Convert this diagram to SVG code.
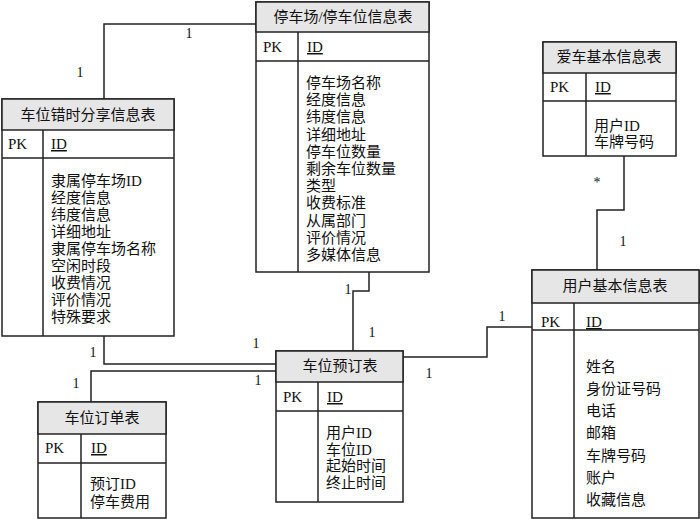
<svg xmlns="http://www.w3.org/2000/svg" width="700" height="520" viewBox="0 0 700 520">
<style>
text{font-family:"Liberation Serif","Noto Sans CJK SC",serif;fill:#111;}
.h{font-size:15px;text-anchor:middle;}
.t{font-size:15px;}
.l{font-size:14px;text-anchor:middle;}
.box{fill:#fff;stroke:#222;stroke-width:1.5;}
.hd{fill:#e6e6e6;stroke:#222;stroke-width:1.5;}
.ln{fill:none;stroke:#222;stroke-width:1.5;}
.u{text-decoration:underline;}
</style>
<rect width="700" height="520" fill="#fff"/>
<g id="connectors">
<polyline class="ln" points="104,99 104,24 256,24"/>
<polyline class="ln" points="369,272 369,291 353,291 353,351"/>
<polyline class="ln" points="403,357 487,357 487,327 532,327"/>
<polyline class="ln" points="624,156 624,210 597,210 597,270"/>
<polyline class="ln" points="104,336 104,364 276,364"/>
<polyline class="ln" points="91,402 91,371 276,371"/>
<text class="l" x="80" y="77">1</text>
<text class="l" x="189" y="38">1</text>
<text class="l" x="93" y="357">1</text>
<text class="l" x="76" y="388">1</text>
<text class="l" x="256" y="348">1</text>
<text class="l" x="258" y="385">1</text>
<text class="l" x="348" y="294">1</text>
<text class="l" x="372" y="337">1</text>
<text class="l" x="502" y="321">1</text>
<text class="l" x="429" y="378">1</text>
<text class="l" x="597" y="187">*</text>
<text class="l" x="623" y="246">1</text>
</g>
<g id="t1">
<rect class="box" x="2" y="99" width="172" height="237"/>
<rect class="hd" x="2" y="99" width="172" height="31"/>
<line class="ln" x1="2" y1="158" x2="174" y2="158"/>
<line class="ln" x1="43" y1="130" x2="43" y2="336"/>
<text class="h" x="88" y="120">车位错时分享信息表</text>
<text class="t" x="8" y="149">PK</text>
<text class="t u" x="51" y="149">ID</text>
<text class="t" x="51" y="186">隶属停车场ID</text>
<text class="t" x="51" y="203">经度信息</text>
<text class="t" x="51" y="220">纬度信息</text>
<text class="t" x="51" y="237">详细地址</text>
<text class="t" x="51" y="254">隶属停车场名称</text>
<text class="t" x="51" y="271">空闲时段</text>
<text class="t" x="51" y="288">收费情况</text>
<text class="t" x="51" y="305">评价情况</text>
<text class="t" x="51" y="322">特殊要求</text>
</g>
<g id="t2">
<rect class="box" x="256" y="2" width="173" height="270"/>
<rect class="hd" x="256" y="2" width="173" height="30"/>
<line class="ln" x1="256" y1="61" x2="429" y2="61"/>
<line class="ln" x1="298" y1="32" x2="298" y2="272"/>
<text class="h" x="343" y="22">停车场/停车位信息表</text>
<text class="t" x="263" y="52">PK</text>
<text class="t u" x="307" y="52">ID</text>
<text class="t" x="306" y="88">停车场名称</text>
<text class="t" x="306" y="105">经度信息</text>
<text class="t" x="306" y="122">纬度信息</text>
<text class="t" x="306" y="140">详细地址</text>
<text class="t" x="306" y="157">停车位数量</text>
<text class="t" x="306" y="174">剩余车位数量</text>
<text class="t" x="306" y="191">类型</text>
<text class="t" x="306" y="208">收费标准</text>
<text class="t" x="306" y="226">从属部门</text>
<text class="t" x="306" y="243">评价情况</text>
<text class="t" x="306" y="260">多媒体信息</text>
</g>
<g id="t3">
<rect class="box" x="543" y="42" width="133" height="114"/>
<rect class="hd" x="543" y="42" width="133" height="31"/>
<line class="ln" x1="543" y1="101" x2="676" y2="101"/>
<line class="ln" x1="586" y1="73" x2="586" y2="156"/>
<text class="h" x="609" y="62">爱车基本信息表</text>
<text class="t" x="550" y="92">PK</text>
<text class="t u" x="595" y="92">ID</text>
<text class="t" x="594" y="131">用户ID</text>
<text class="t" x="594" y="147">车牌号码</text>
</g>
<g id="t4">
<rect class="box" x="532" y="270" width="167" height="248"/>
<rect class="hd" x="532" y="270" width="167" height="33"/>
<line class="ln" x1="532" y1="330" x2="699" y2="330"/>
<line class="ln" x1="574" y1="303" x2="574" y2="518"/>
<text class="h" x="615" y="291">用户基本信息表</text>
<text class="t" x="541" y="327">PK</text>
<text class="t u" x="586" y="327">ID</text>
<text class="t" x="586" y="372">姓名</text>
<text class="t" x="586" y="394">身份证号码</text>
<text class="t" x="586" y="416">电话</text>
<text class="t" x="586" y="438">邮箱</text>
<text class="t" x="586" y="461">车牌号码</text>
<text class="t" x="586" y="483">账户</text>
<text class="t" x="586" y="505">收藏信息</text>
</g>
<g id="t5">
<rect class="box" x="276" y="351" width="127" height="151"/>
<rect class="hd" x="276" y="351" width="127" height="31"/>
<line class="ln" x1="276" y1="411" x2="403" y2="411"/>
<line class="ln" x1="318" y1="382" x2="318" y2="502"/>
<text class="h" x="340" y="371">车位预订表</text>
<text class="t" x="283" y="402">PK</text>
<text class="t u" x="327" y="402">ID</text>
<text class="t" x="326" y="438">用户ID</text>
<text class="t" x="326" y="455">车位ID</text>
<text class="t" x="326" y="471">起始时间</text>
<text class="t" x="326" y="488">终止时间</text>
</g>
<g id="t6">
<rect class="box" x="38" y="402" width="128" height="116"/>
<rect class="hd" x="38" y="402" width="128" height="32"/>
<line class="ln" x1="38" y1="463" x2="166" y2="463"/>
<line class="ln" x1="81" y1="434" x2="81" y2="518"/>
<text class="h" x="102" y="423">车位订单表</text>
<text class="t" x="45" y="453">PK</text>
<text class="t u" x="91" y="453">ID</text>
<text class="t" x="90" y="489">预订ID</text>
<text class="t" x="90" y="507">停车费用</text>
</g>
</svg>
